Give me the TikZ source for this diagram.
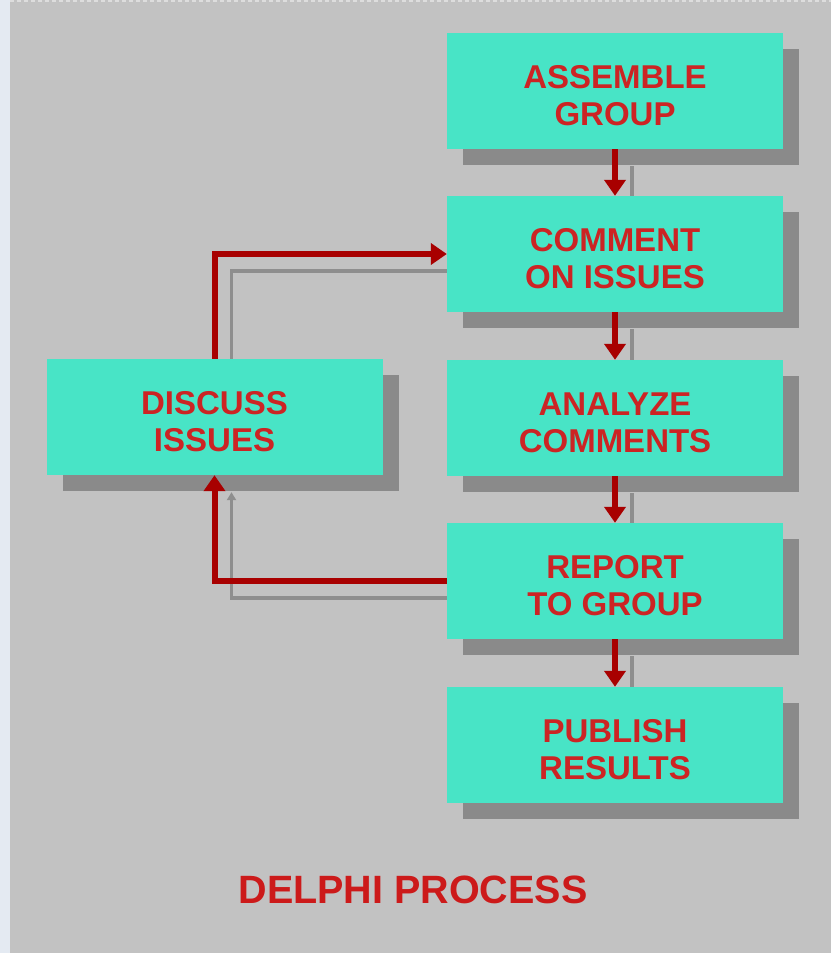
\documentclass[tikz,border=0pt]{standalone}
\usepackage{fontspec}
\setmainfont{Liberation Sans}
\usetikzlibrary{arrows.meta,shadows}
\definecolor{bgc}{HTML}{C2C2C2}
\definecolor{stripc}{HTML}{E4EAF2}
\definecolor{boxc}{HTML}{48E4C6}
\definecolor{txtc}{HTML}{CC2424}
\definecolor{titc}{HTML}{CC1A1A}
\definecolor{arrc}{HTML}{A80000}
\definecolor{shadc}{HTML}{8A8A8A}
\definecolor{lshadc}{HTML}{8E8E8E}
\newcommand\mytopstrut{\rule{0pt}{31.6pt}}
\pgfdeclarelayer{bgl}
\pgfsetlayers{bgl,main}
\tikzset{
  stepbox/.style={rectangle, fill=boxc, minimum width=336pt, minimum height=116pt,
    inner sep=0pt, align=center, text=txtc,
    font=\bfseries\fontsize{33}{37}\selectfont,
    drop shadow={shadow xshift=16pt, shadow yshift=-16pt, fill=shadc, opacity=1}},
  flow/.style={draw=arrc, line width=6pt, -{Triangle[width=21pt,length=16pt]}},
  flowshadow/.style={draw=lshadc, line width=3.5pt},
}
\begin{document}
\begin{tikzpicture}[x=1pt,y=1pt]
\begin{pgfonlayer}{bgl}
  \fill[bgc] (0,0) rectangle (831,-953);
  \fill[stripc] (0,0) rectangle (10,-953);
  \draw[white!45!bgc, line width=1.5pt, dash pattern=on 4pt off 3pt] (10,-0.75) -- (831,-0.75);
\end{pgfonlayer}
\useasboundingbox (0,0) rectangle (831,-953);

\node[stepbox] (asm) at (615,-91)  {\mytopstrut ASSEMBLE\\GROUP};
\node[stepbox] (com) at (615,-254) {\mytopstrut COMMENT\\ON ISSUES};
\node[stepbox] (ana) at (615,-418) {\mytopstrut ANALYZE\\COMMENTS};
\node[stepbox] (rep) at (615,-581) {\mytopstrut REPORT\\TO GROUP};
\node[stepbox] (pub) at (615,-745) {\mytopstrut PUBLISH\\RESULTS};
\node[stepbox] (dis) at (214.5,-417) {\mytopstrut DISCUSS\\ISSUES};

\node[anchor=base, text=titc, font=\bfseries\fontsize{39.5}{44}\selectfont] (title) at (413,-903) {DELPHI PROCESS};

\begin{pgfonlayer}{bgl}
  \draw[flowshadow] ([xshift=17pt,yshift=-17pt]asm.south) -- ([xshift=17pt,yshift=-17pt]com.north);
  \draw[flowshadow] ([xshift=17pt,yshift=-17pt]com.south) -- ([xshift=17pt,yshift=-17pt]ana.north);
  \draw[flowshadow] ([xshift=17pt,yshift=-17pt]ana.south) -- ([xshift=17pt,yshift=-17pt]rep.north);
  \draw[flowshadow] ([xshift=17pt,yshift=-17pt]rep.south) -- ([xshift=17pt,yshift=-17pt]pub.north);
  \draw[flowshadow, -{Triangle[width=9pt,length=8pt]}] ([xshift=17pt,yshift=-17pt]rep.west) -| ([xshift=17pt,yshift=-17pt]dis.south);
  \draw[flowshadow] ([xshift=17pt,yshift=-17pt]dis.north) |- ([xshift=17pt,yshift=-17pt]com.west);
\end{pgfonlayer}

\draw[flow] (asm.south) -- (com.north);
\draw[flow] (com.south) -- (ana.north);
\draw[flow] (ana.south) -- (rep.north);
\draw[flow] (rep.south) -- (pub.north);
\draw[flow] (rep.west) -| (dis.south);
\draw[flow] (dis.north) |- (com.west);
\end{tikzpicture}
\end{document}
